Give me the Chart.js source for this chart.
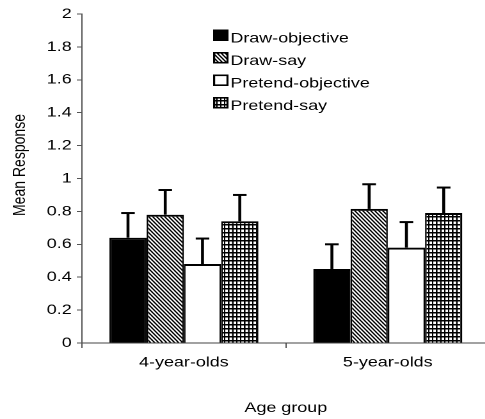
<!DOCTYPE html>
<html><head><meta charset="utf-8">
<script src="https://cdn.jsdelivr.net/npm/chart.js@4/dist/chart.umd.min.js"></script>
<style>
html,body{margin:0;padding:0;background:#fff;overflow:hidden;width:485px;height:419px}
#wrap{position:absolute;left:0;top:0;width:390px;height:419px;transform:scaleX(1.28);transform-origin:0 0}
</style></head><body>
<div id="wrap"><canvas id="c"></canvas></div>
<script>
// ---- data ----
const categories = ['4-year-olds', '5-year-olds'];
const seriesNames = ['Draw-objective', 'Draw-say', 'Pretend-objective', 'Pretend-say'];
const drawObjective = [0.64, 0.45];
const drawSay = [0.78, 0.815];
const pretendObjective = [0.48, 0.58];
const pretendSay = [0.74, 0.79];
const drawObjectiveErr = [0.15, 0.15];
const drawSayErr = [0.15, 0.15];
const pretendObjectiveErr = [0.155, 0.155];
const pretendSayErr = [0.16, 0.155];
const yTickValues = [0, 0.2, 0.4, 0.6, 0.8, 1, 1.2, 1.4, 1.6, 1.8, 2];
const yTitle = 'Mean Response';
const xTitle = 'Age group';

// ---- patterns ----
function makePattern(w, h, k, draw) {
  const c = document.createElement('canvas');
  c.width = Math.round(w * k); c.height = Math.round(h * k);
  const g = c.getContext('2d');
  g.fillStyle = '#fff'; g.fillRect(0, 0, c.width, c.height);
  draw(g, c.width, c.height);
  const p = g.createPattern(c, 'repeat');
  p.setTransform(new DOMMatrix().scale(1 / k, 1 / k));
  return p;
}
const hatch = makePattern(3.125, 4, 8, (g, W, H) => {
  g.strokeStyle = '#000'; g.lineWidth = 9.5; g.lineCap = 'square';
  for (let i = -2; i <= 2; i++) {
    g.beginPath(); g.moveTo(i * W, 0); g.lineTo(i * W + W, H); g.stroke();
  }
});
const grid = makePattern(3.125, 4, 8, (g, W, H) => {
  g.fillStyle = '#000';
  g.fillRect(0, 0, 9, H);
  g.fillRect(0, 0, W, 11);
});

const fills = ['#000000', hatch, '#ffffff', grid];
const values = [drawObjective, drawSay, pretendObjective, pretendSay];
const errors = [drawObjectiveErr, drawSayErr, pretendObjectiveErr, pretendSayErr];

Chart.defaults.font.family = '"Liberation Sans", Arial, sans-serif';
Chart.defaults.font.size = 14;
Chart.defaults.color = '#000';

const errorBars = {
  id: 'errorBars',
  afterDatasetsDraw(chart) {
    const ctx = chart.ctx, ys = chart.scales.y;
    ctx.save();
    ctx.strokeStyle = '#000';
    chart.data.datasets.forEach((ds, i) => {
      const meta = chart.getDatasetMeta(i);
      meta.data.forEach((el, j) => {
        const top = ys.getPixelForValue(ds.data[j] + ds.errorBars[j]);
        ctx.lineWidth = 2.3;
        ctx.beginPath(); ctx.moveTo(el.x, el.y); ctx.lineTo(el.x, top); ctx.stroke();
        ctx.lineWidth = 2;
        ctx.beginPath(); ctx.moveTo(el.x - 5.3, top); ctx.lineTo(el.x + 5.3, top); ctx.stroke();
      });
    });
    ctx.restore();
  }
};

const customLegend = {
  id: 'customLegend',
  afterDraw(chart) {
    const ctx = chart.ctx;
    ctx.save();
    const bx = 166.5, by = 29.5, gap = 22.5, bw = 12, bh = 11.5;
    chart.data.datasets.forEach((ds, i) => {
      const y = by + i * gap;
      ctx.fillStyle = ds.backgroundColor;
      ctx.fillRect(bx, y, bw, bh);
      ctx.strokeStyle = '#000';
      ctx.lineWidth = 1.6;
      ctx.strokeRect(bx + 0.8, y + 0.8, bw - 1.6, bh - 1.6);
      ctx.fillStyle = '#000';
      ctx.font = '14px "Liberation Sans", Arial, sans-serif';
      ctx.textBaseline = 'alphabetic';
      ctx.fillText(ds.label, bx + 13.5, y + 12.8);
    });
    // y axis title
    ctx.translate(15.6, 165);
    ctx.rotate(-Math.PI / 2);
    ctx.textAlign = 'center';
    ctx.textBaseline = 'middle';
    ctx.fillText(yTitle, 0, 0);
    ctx.restore();
  }
};

new Chart(document.getElementById('c'), {
  type: 'bar',
  data: {
    labels: categories,
    datasets: seriesNames.map((name, i) => ({
      label: name,
      data: values[i],
      errorBars: errors[i],
      backgroundColor: fills[i],
      borderColor: '#000',
      borderWidth: { top: 2, left: 1.3, right: 1.3, bottom: 0 },
      borderSkipped: false,
      categoryPercentage: 0.731,
      barPercentage: 1.0
    }))
  },
  options: {
    responsive: true,
    maintainAspectRatio: false,
    animation: false,
    devicePixelRatio: 2,
    layout: { padding: { left: 0, top: 14, right: 7.4, bottom: 0 } },
    plugins: { legend: { display: false }, tooltip: { enabled: false } },
    scales: {
      x: {
        grid: { display: true, drawOnChartArea: false, drawTicks: true, tickLength: 5, color: '#555', offset: true },
        border: { display: true, color: '#444', width: 1 },
        ticks: { padding: 6, color: '#000' },
        title: { display: true, text: xTitle, color: '#000', padding: { top: 0, bottom: 2.6 } },
        afterFit(scale) { scale.height = 76; }
      },
      y: {
        min: 0, max: 2,
        afterBuildTicks(scale) { scale.ticks = yTickValues.map(v => ({ value: v })); },
        grid: { display: true, drawOnChartArea: false, drawTicks: true, tickLength: 4, color: '#555' },
        border: { display: true, color: '#555', width: 1 },
        ticks: { padding: 4, color: '#000', callback: v => String(v) },
        afterFit(scale) { scale.width = 64; }
      }
    }
  },
  plugins: [errorBars, customLegend]
});
</script>
</body></html>
